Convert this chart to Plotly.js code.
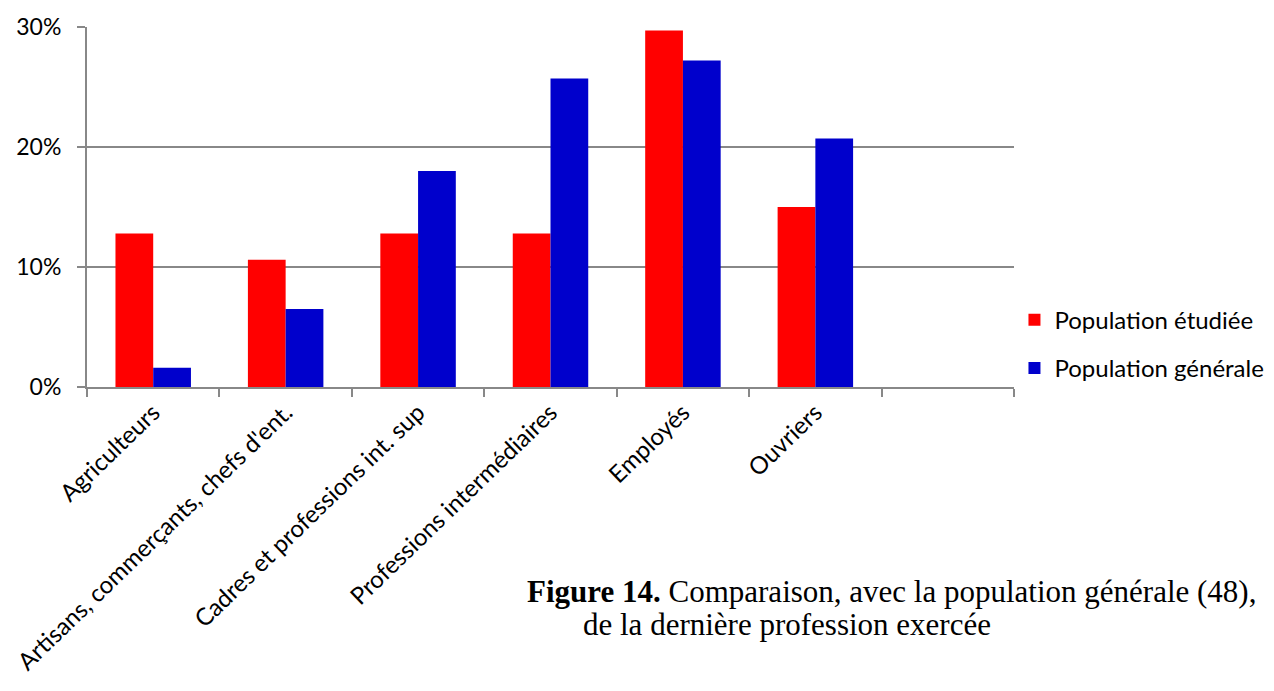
<!DOCTYPE html>
<html>
<head>
<meta charset="utf-8">
<script src="https://cdn.plot.ly/plotly-3.0.1.min.js"></script>
<style>html,body{margin:0;padding:0;background:#fff;}#chart{width:1274px;height:691px;}</style>
</head>
<body>
<div id="chart"></div>
<script>
const categories = ["Agriculteurs", "Artisans, commerçants, chefs d'ent.", "Cadres et professions int. sup", "Professions intermédiaires", "Employés", "Ouvriers", " "];
const seriesNames = ["Population étudiée", "Population générale"];
const etudiee = [12.8, 10.6, 12.8, 12.8, 29.7, 15.0, null];
const generale = [1.6, 6.5, 18.0, 25.7, 27.2, 20.7, null];
const yTickVals = [0, 10, 20, 30];
const yTickText = ["0%", "10%", "20%", "30%"];
const captionLine1 = "<b>Figure 14.</b> Comparaison, avec la population générale (48),";
const captionLine2 = "de la dernière profession exercée";

const sans = "Lato, 'Open Sans', sans-serif";
const serif = "'Liberation Serif', 'Times New Roman', serif";

const data = [
  {type: "bar", name: seriesNames[0], legendgroup: "a", x: categories, y: etudiee, marker: {color: "#ff0000"}, hoverinfo: "none"},
  {type: "bar", name: seriesNames[1], legendgroup: "b", x: categories, y: generale, marker: {color: "#0000cc"}, hoverinfo: "none"}
];

const layout = {
  width: 1274, height: 691,
  margin: {l: 87, r: 260, t: 27, b: 304, autoexpand: false},
  paper_bgcolor: "#fff", plot_bgcolor: "#fff",
  barmode: "group", bargap: 0.43, bargroupgap: 0,
  showlegend: true,
  legend: {x: 1.0005, y: 0.119, xanchor: "left", yanchor: "middle", font: {family: sans, size: 24, color: "#000"},
           tracegroupgap: 14, itemwidth: 30, bgcolor: "rgba(0,0,0,0)", traceorder: "grouped"},
  xaxis: {
    type: "category", tickson: "boundaries", ticks: "outside", ticklen: 8, tickcolor: "#888", tickwidth: 2,
    showline: true, linecolor: "#888", linewidth: 2, showgrid: false, tickangle: -44, automargin: false,
    tickfont: {family: sans, size: 24, color: "#000"}, range: [-0.5, 6.5], fixedrange: true
  },
  yaxis: {
    range: [0, 30], tickvals: yTickVals, ticktext: yTickText, ticks: "outside", ticklen: 8, automargin: false,
    tickcolor: "#888", tickwidth: 2, showline: true, linecolor: "#888", linewidth: 2, ticklabelstandoff: 11,
    showgrid: true, gridcolor: "#888", gridwidth: 2, zeroline: false,
    tickfont: {family: sans, size: 23, color: "#000"}, fixedrange: true
  },
  annotations: [
    {xref: "paper", yref: "paper", x: (525 - 87) / 927, y: -0.568, xanchor: "left", yanchor: "middle", showarrow: false,
     text: captionLine1, font: {family: serif, size: 31, color: "#000"}},
    {xref: "paper", yref: "paper", x: (581 - 87) / 927, y: -0.66, xanchor: "left", yanchor: "middle", showarrow: false,
     text: captionLine2, font: {family: serif, size: 31, color: "#000"}}
  ]
};

Plotly.newPlot("chart", data, layout, {displayModeBar: false, staticPlot: true});
</script>
</body>
</html>
